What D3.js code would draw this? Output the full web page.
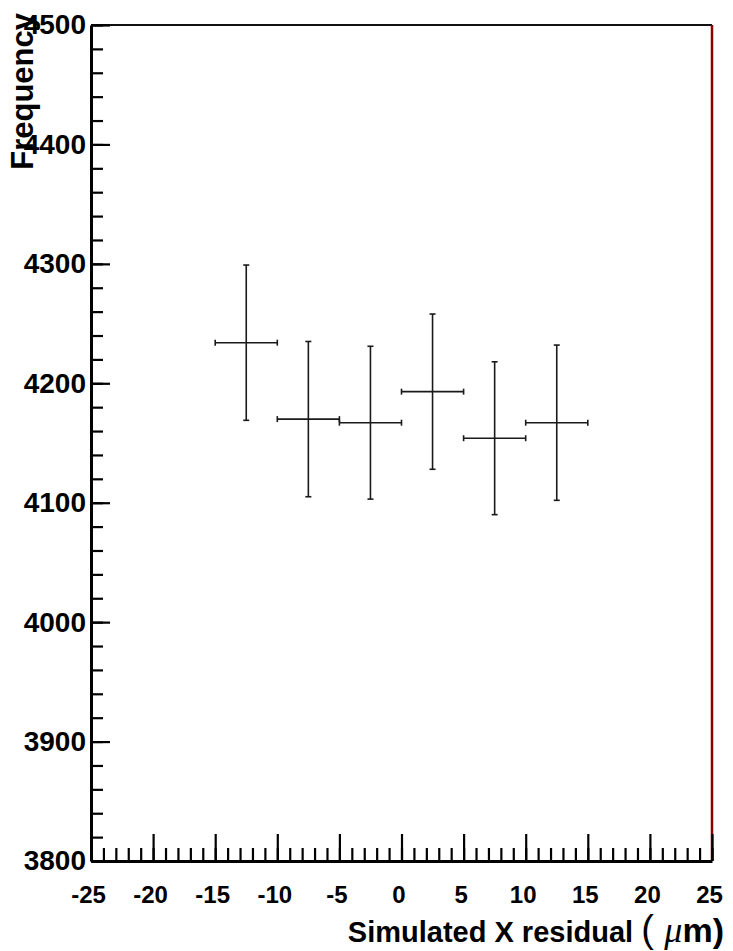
<!DOCTYPE html>
<html>
<head>
<meta charset="utf-8">
<script src="https://cdn.jsdelivr.net/npm/d3@7"></script>
<style>
  body { margin: 0; background: #fff; }
  svg { display: block; font-family: "Liberation Sans", Arial, sans-serif; }
</style>
</head>
<body>
<script>
// histogram bins (simulated X residual, um) and counts with errors
const binLo = [-15, -10, -5, 0, 5, 10];
const binHi = [-10, -5, 0, 5, 10, 15];
const counts = [4234, 4170, 4167, 4193, 4154, 4167];
const errors = [65, 65, 64, 65, 64, 65];
const xTicks = [-25, -20, -15, -10, -5, 0, 5, 10, 15, 20, 25];
const yTicks = [3800, 3900, 4000, 4100, 4200, 4300, 4400, 4500];

const width = 733, height = 951;
const margin = {left: 91, right: 21, top: 25, bottom: 90};

const x = d3.scaleLinear().domain([-25, 25]).range([margin.left, width - margin.right]);
const y = d3.scaleLinear().domain([3800, 4500]).range([height - margin.bottom, margin.top]);

const svg = d3.select("body").append("svg")
    .attr("width", width)
    .attr("height", height);

// frame: top black, right dark red
svg.append("line")
    .attr("x1", x(-25)).attr("x2", x(25))
    .attr("y1", y(4500)).attr("y2", y(4500))
    .attr("stroke", "#111").attr("stroke-width", 2);
svg.append("line")
    .attr("x1", x(25)).attr("x2", x(25))
    .attr("y1", y(4500)).attr("y2", y(3800))
    .attr("stroke", "#8b0000").attr("stroke-width", 2.5);

// x axis: minor ticks every 1, major every 5
svg.append("g")
    .attr("transform", `translate(0,${y(3800)})`)
    .call(d3.axisBottom(x).tickValues(d3.range(-25, 26, 1)).tickSizeInner(-13).tickSizeOuter(0).tickFormat(""))
    .call(g => g.select(".domain").attr("stroke", "#000").attr("stroke-width", 3))
    .call(g => g.selectAll(".tick line").attr("stroke", "#000").attr("stroke-width", 2.2));

svg.append("g")
    .attr("transform", `translate(0,${y(3800)})`)
    .call(d3.axisBottom(x).tickValues(xTicks).tickSizeInner(-27).tickSizeOuter(0).tickPadding(25)
        .tickFormat(d => String(d)))
    .call(g => g.select(".domain").remove())
    .call(g => g.selectAll(".tick line").attr("stroke", "#000").attr("stroke-width", 2.2))
    .call(g => g.selectAll(".tick text")
        .attr("fill", "#000")
        .attr("dx", -3)
        .style("font-size", "24px")
        .style("font-weight", "bold")
        .style("font-family", "'Liberation Sans', Arial, sans-serif"));

// y axis: minor ticks every 20, major every 100
svg.append("g")
    .attr("transform", `translate(${x(-25)},0)`)
    .call(d3.axisLeft(y).tickValues(d3.range(3800, 4501, 20)).tickSizeInner(-12).tickSizeOuter(0).tickFormat(""))
    .call(g => g.select(".domain").attr("stroke", "#000").attr("stroke-width", 3))
    .call(g => g.selectAll(".tick line").attr("stroke", "#000").attr("stroke-width", 2.2));

svg.append("g")
    .attr("transform", `translate(${x(-25)},0)`)
    .call(d3.axisLeft(y).tickValues(yTicks).tickSizeInner(-19).tickSizeOuter(0).tickPadding(5).tickFormat(d3.format("d")))
    .call(g => g.select(".domain").remove())
    .call(g => g.selectAll(".tick line").attr("stroke", "#000").attr("stroke-width", 2.2))
    .call(g => g.selectAll(".tick text")
        .attr("fill", "#000")
        .style("font-size", "28px")
        .style("font-weight", "bold")
        .style("font-family", "'Liberation Sans', Arial, sans-serif"));

// data points with error bars
const pts = counts.map((c, i) => ({lo: binLo[i], hi: binHi[i], c: c, e: errors[i]}));
const cap = 3;
const marks = svg.append("g")
    .attr("stroke", "#1a1a1a")
    .attr("stroke-width", 1.6)
  .selectAll("g")
  .data(pts)
  .join("g");

marks.append("line")
    .attr("x1", d => x(d.lo)).attr("x2", d => x(d.hi))
    .attr("y1", d => y(d.c)).attr("y2", d => y(d.c));
marks.append("line")
    .attr("x1", d => x((d.lo + d.hi) / 2)).attr("x2", d => x((d.lo + d.hi) / 2))
    .attr("y1", d => y(d.c + d.e)).attr("y2", d => y(d.c - d.e));
// caps
marks.append("line")
    .attr("x1", d => x(d.lo)).attr("x2", d => x(d.lo))
    .attr("y1", d => y(d.c) - cap).attr("y2", d => y(d.c) + cap);
marks.append("line")
    .attr("x1", d => x(d.hi)).attr("x2", d => x(d.hi))
    .attr("y1", d => y(d.c) - cap).attr("y2", d => y(d.c) + cap);
marks.append("line")
    .attr("x1", d => x((d.lo + d.hi) / 2) - cap).attr("x2", d => x((d.lo + d.hi) / 2) + cap)
    .attr("y1", d => y(d.c + d.e)).attr("y2", d => y(d.c + d.e));
marks.append("line")
    .attr("x1", d => x((d.lo + d.hi) / 2) - cap).attr("x2", d => x((d.lo + d.hi) / 2) + cap)
    .attr("y1", d => y(d.c - d.e)).attr("y2", d => y(d.c - d.e));

// axis titles
const xt = svg.append("text")
    .attr("x", 724)
    .attr("y", 942)
    .attr("text-anchor", "end")
    .attr("fill", "#000");
xt.append("tspan").style("font-size", "29px").style("font-weight", "bold").text("Simulated X residual ");
xt.append("tspan").style("font-size", "38px").text("( ");
xt.append("tspan").style("font-size", "36px").style("font-style", "italic")
    .style("font-family", "'Liberation Serif', serif").text("μ");
xt.append("tspan").style("font-size", "34px").style("font-weight", "bold").text("m)");

svg.append("text")
    .attr("transform", "translate(33,13) rotate(-90)")
    .attr("text-anchor", "end")
    .attr("fill", "#000")
    .style("font-size", "31px")
    .style("font-weight", "bold")
    .text("Frequency");
</script>
</body>
</html>
